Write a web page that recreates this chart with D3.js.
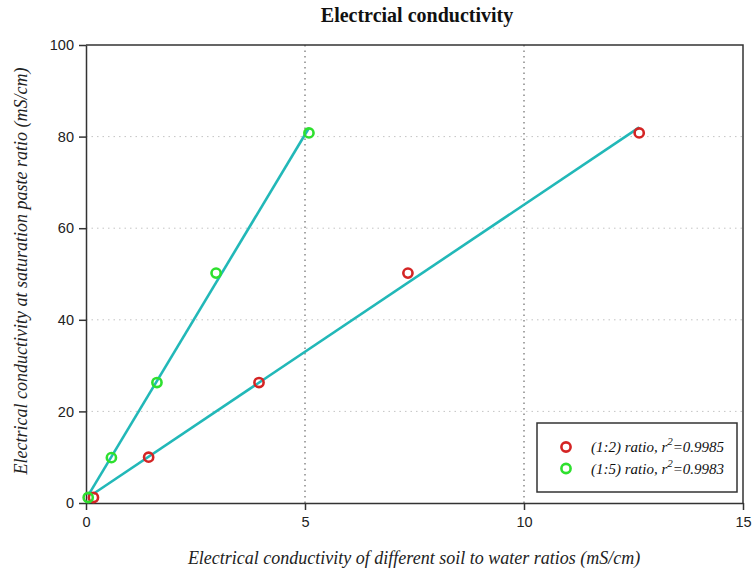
<!DOCTYPE html>
<html>
<head>
<meta charset="utf-8">
<script src="https://cdn.jsdelivr.net/npm/d3@7"></script>
<style>
  html, body { margin: 0; padding: 0; background: #fff; }
  svg { display: block; }
</style>
</head>
<body>
<svg id="chart" width="752" height="574"></svg>
<script>
// EC readings (mS/cm) for the two soil:water extracts against the saturation paste
const ratio12X = [0.17, 1.43, 3.95, 7.35, 12.63];
const ratio12Y = [1.2, 10.0, 26.3, 50.2, 80.8];
const ratio15X = [0.05, 0.58, 1.62, 2.97, 5.09];
const ratio15Y = [1.2, 9.9, 26.3, 50.2, 80.8];

const seriesNames = ["(1:2) ratio, r", "(1:5) ratio, r"];
const seriesR2 = ["=0.9985", "=0.9983"];
const xTicks = [0, 5, 10, 15];
const yTicks = [0, 20, 40, 60, 80, 100];

const svg = d3.select("#chart");
const margin = { left: 86, right: 9, top: 45, bottom: 71 };
const W = 752, H = 574;

const x = d3.scaleLinear().domain([0, 15]).range([margin.left, W - margin.right]);
const y = d3.scaleLinear().domain([0, 100]).range([H - margin.bottom, margin.top]);

const serif = "'Liberation Serif', 'Times New Roman', serif";
const sans = "'Liberation Sans', Arial, sans-serif";

// grid
svg.append("g").selectAll("line")
  .data(yTicks.filter(d => d > 0 && d < 100))
  .join("line")
  .attr("x1", x(0)).attr("x2", x(15))
  .attr("y1", d => y(d)).attr("y2", d => y(d))
  .attr("stroke", "#c4c4c4").attr("stroke-width", 1)
  .attr("stroke-dasharray", "1.5,4");

svg.append("g").selectAll("line")
  .data(xTicks.filter(d => d > 0 && d < 15))
  .join("line")
  .attr("x1", d => x(d)).attr("x2", d => x(d))
  .attr("y1", y(0)).attr("y2", y(100))
  .attr("stroke", "#777").attr("stroke-width", 1.3)
  .attr("stroke-dasharray", "1.5,4");

// frame top/right
svg.append("path")
  .attr("d", `M${x(0)},${y(100)}H${x(15)}V${y(0)}`)
  .attr("fill", "none").attr("stroke", "#333").attr("stroke-width", 1.5);

// axes
const xAxis = svg.append("g")
  .attr("transform", `translate(0,${y(0)})`)
  .call(d3.axisBottom(x).tickValues(xTicks).tickSize(7).tickPadding(5).tickSizeOuter(0));
const yAxis = svg.append("g")
  .attr("transform", `translate(${x(0)},0)`)
  .call(d3.axisLeft(y).tickValues(yTicks).tickSize(7).tickPadding(5).tickSizeOuter(0));
[xAxis, yAxis].forEach(g => {
  g.select(".domain").attr("stroke", "#333").attr("stroke-width", 1.5);
  g.selectAll(".tick line").attr("stroke", "#333").attr("stroke-width", 1.5);
  g.selectAll(".tick text").attr("font-family", sans).attr("font-size", 14.5).attr("fill", "#222");
});
xAxis.selectAll(".tick text").attr("dy", "0.85em");

// regression lines
function fit(xs, ys) {
  const mx = d3.mean(xs), my = d3.mean(ys);
  const sxy = d3.sum(xs, (v, i) => (v - mx) * (ys[i] - my));
  const sxx = d3.sum(xs, v => (v - mx) ** 2);
  const b = sxy / sxx, a = my - b * mx;
  const [x0, x1] = d3.extent(xs);
  return [[x0, a + b * x0], [x1, a + b * x1]];
}
const line = d3.line().x(d => x(d[0])).y(d => y(d[1]));
const series = [
  { xs: ratio12X, ys: ratio12Y, color: "#d42424" },
  { xs: ratio15X, ys: ratio15Y, color: "#2ee02e" }
];
series.forEach(s => {
  svg.append("path")
    .attr("d", line(fit(s.xs, s.ys)))
    .attr("fill", "none").attr("stroke", "#22b8b8").attr("stroke-width", 2.6);
});
series.forEach(s => {
  svg.append("g").selectAll("circle")
    .data(s.xs.map((v, i) => [v, s.ys[i]]))
    .join("circle")
    .attr("cx", d => x(d[0])).attr("cy", d => y(d[1])).attr("r", 4.6)
    .attr("fill", "none").attr("stroke", s.color).attr("stroke-width", 2.6);
});

// title
svg.append("text")
  .attr("x", 417).attr("y", 22).attr("text-anchor", "middle")
  .attr("font-family", serif).attr("font-weight", "bold").attr("font-size", 20)
  .attr("fill", "#111")
  .text("Electrcial conductivity");

// axis titles
svg.append("text")
  .attr("x", 414).attr("y", 564).attr("text-anchor", "middle")
  .attr("font-family", serif).attr("font-style", "italic").attr("font-size", 18)
  .attr("fill", "#222")
  .text("Electrical conductivity of different soil to water ratios (mS/cm)");
svg.append("text")
  .attr("transform", "translate(27,271) rotate(-90)").attr("text-anchor", "middle")
  .attr("font-family", serif).attr("font-style", "italic").attr("font-size", 18)
  .attr("fill", "#222")
  .text("Electrical conductivity at saturation paste ratio (mS/cm)");

// legend
const lg = svg.append("g");
lg.append("rect")
  .attr("x", 537).attr("y", 423).attr("width", 200).attr("height", 69)
  .attr("fill", "#fff").attr("stroke", "#333").attr("stroke-width", 1.5);
series.forEach((s, i) => {
  const cy = 447 + i * 21.5;
  lg.append("circle").attr("cx", 566).attr("cy", cy).attr("r", 4.6)
    .attr("fill", "none").attr("stroke", s.color).attr("stroke-width", 2.6);
  const t = lg.append("text").attr("x", 591).attr("y", cy + 5)
    .attr("font-family", serif).attr("font-style", "italic").attr("font-size", 15)
    .attr("fill", "#111");
  t.append("tspan").text(seriesNames[i]);
  t.append("tspan").attr("dy", -7).attr("font-size", 11).text("2");
  t.append("tspan").attr("dy", 7).text(seriesR2[i]);
});
</script>
</body>
</html>
